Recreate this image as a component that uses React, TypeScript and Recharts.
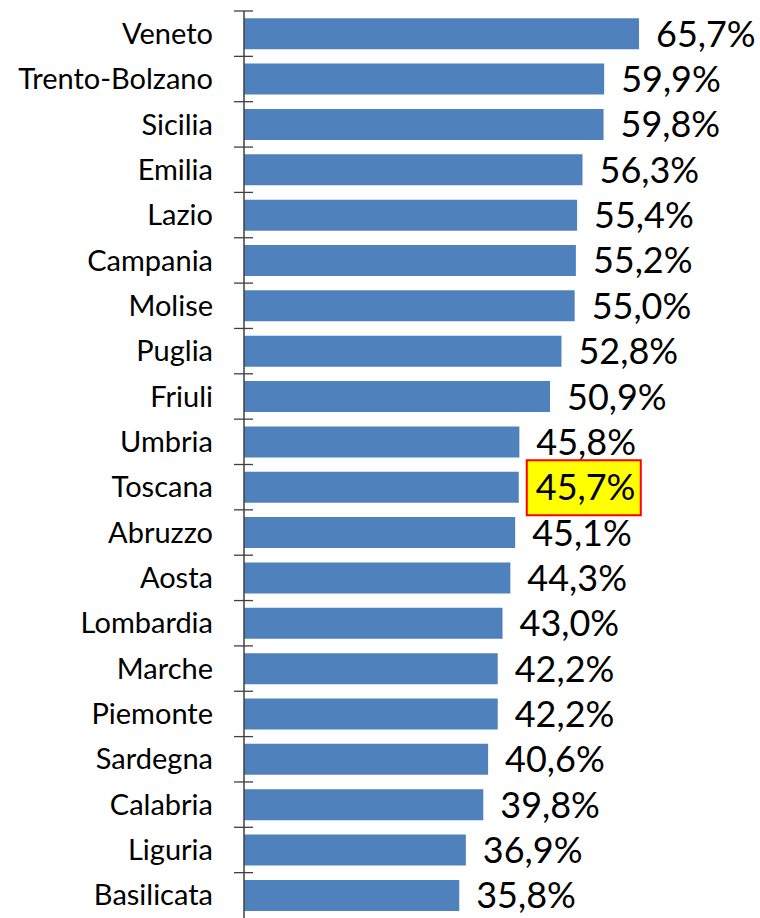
import React from "react";
import { BarChart, Bar, XAxis, YAxis, LabelList } from "recharts";

const categories = [
  "Veneto", "Trento-Bolzano", "Sicilia", "Emilia", "Lazio", "Campania", "Molise",
  "Puglia", "Friuli", "Umbria", "Toscana", "Abruzzo", "Aosta", "Lombardia",
  "Marche", "Piemonte", "Sardegna", "Calabria", "Liguria", "Basilicata",
];
const values = [
  65.7, 59.9, 59.8, 56.3, 55.4, 55.2, 55.0, 52.8, 50.9, 45.8, 45.7, 45.1, 44.3,
  43.0, 42.2, 42.2, 40.6, 39.8, 36.9, 35.8,
];
const highlighted = "Toscana";
const xDomain: [number, number] = [0, 80];

const data = categories.map((name, i) => ({ name, value: values[i] }));

const W = 760;
const H = 918;
const MARGIN = { top: 11, right: 35, bottom: 0, left: 0 };
const Y_AXIS_W = 244;
const BAND = (H - MARGIN.top - MARGIN.bottom) / categories.length;
const AXIS_X = MARGIN.left + Y_AXIS_W;

const FONT = "Lato, 'Open Sans', sans-serif";

const fmt = (v: number) => v.toFixed(1).replace(".", ",") + "%";

const CategoryTick = (props: any) => {
  const { y, payload } = props;
  const top = y - BAND / 2;
  return (
    <g>
      <line x1={AXIS_X - 10} x2={AXIS_X + 9} y1={top} y2={top} stroke="#404040" strokeWidth={1.3} />
      <text
        x={AXIS_X - 31}
        y={y}
        dy="0.35em"
        textAnchor="end"
        fontFamily={FONT}
        fontSize={29}
        fill="#000"
      >
        {payload.value}
      </text>
    </g>
  );
};

const ValueLabel = (props: any) => {
  const { x, y, width, height, value, index } = props;
  const tx = x + width + 17;
  const cy = y + height / 2;
  const isHi = categories[index] === highlighted;
  return (
    <g>
      {isHi && (
        <rect
          x={x + width + 8}
          y={cy - 27}
          width={114}
          height={55}
          fill="#FFFF00"
          stroke="#FF0000"
          strokeWidth={2}
        />
      )}
      <text
        x={tx}
        y={cy}
        dy="0.36em"
        textAnchor="start"
        fontFamily={FONT}
        fontSize={36}
        fill="#000"
      >
        {fmt(value)}
      </text>
    </g>
  );
};

export default function App() {
  return (
    <div style={{ position: "absolute", left: 0, top: 0, width: W, height: H, background: "#fff" }}>
      <BarChart
        width={W}
        height={H}
        data={data}
        layout="vertical"
        margin={MARGIN}
        barCategoryGap="16%"
      >
        <XAxis type="number" domain={xDomain} hide />
        <YAxis
          type="category"
          dataKey="name"
          width={Y_AXIS_W}
          axisLine={{ stroke: "#404040", strokeWidth: 1.5 }}
          tickLine={false}
          tick={<CategoryTick />}
          interval={0}
        />
        <Bar dataKey="value" fill="#4F81BD" isAnimationActive={false}>
          <LabelList dataKey="value" content={<ValueLabel />} />
        </Bar>
      </BarChart>
    </div>
  );
}
